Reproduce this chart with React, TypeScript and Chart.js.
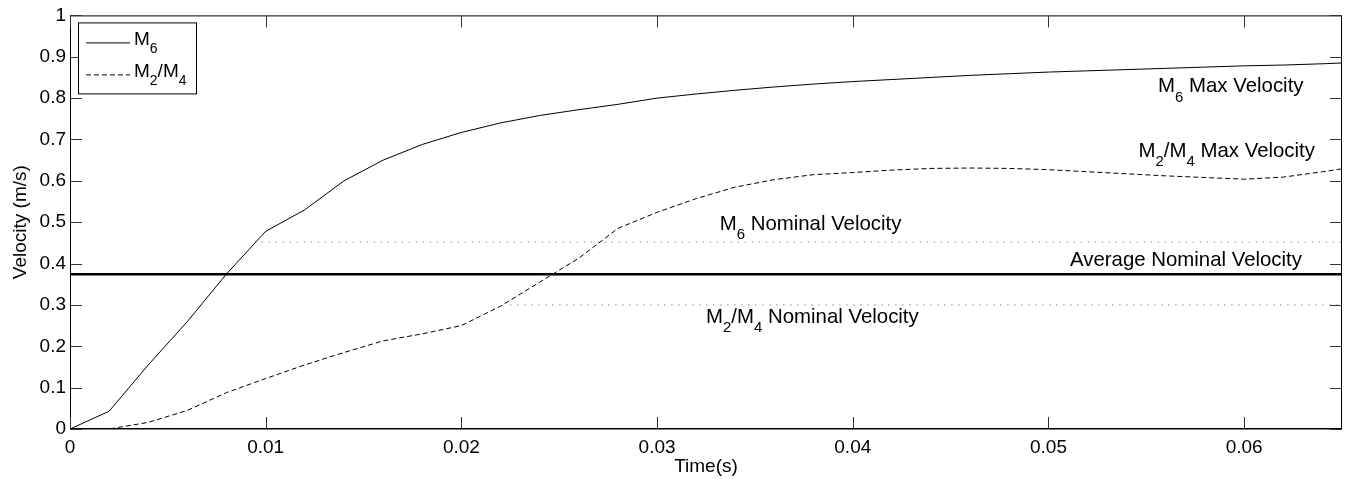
import React, { useEffect, useRef } from 'react';
import { Chart, registerables } from 'chart.js';

Chart.register(...registerables);

// ---------- data ----------
const TIME = [
  0, 0.002, 0.004, 0.006, 0.008, 0.01, 0.012, 0.014, 0.016, 0.018, 0.02,
  0.022, 0.024, 0.026, 0.028, 0.03, 0.032, 0.034, 0.036, 0.038, 0.04,
  0.042, 0.044, 0.046, 0.048, 0.05, 0.052, 0.054, 0.056, 0.058, 0.06,
  0.062, 0.064, 0.065,
];
const M6_VELOCITY = [
  0, 0.043, 0.155, 0.26, 0.375, 0.478, 0.53, 0.6, 0.65, 0.688, 0.717,
  0.74, 0.758, 0.772, 0.785, 0.8, 0.81, 0.819, 0.827, 0.834, 0.84,
  0.845, 0.85, 0.855, 0.859, 0.863, 0.866, 0.869, 0.872, 0.875, 0.878,
  0.88, 0.883, 0.885,
];
const M24_VELOCITY = [
  0, 0, 0.016, 0.045, 0.088, 0.122, 0.155, 0.185, 0.213, 0.23, 0.25,
  0.297, 0.355, 0.413, 0.485, 0.524, 0.557, 0.585, 0.603, 0.615, 0.62,
  0.626, 0.63, 0.631, 0.63, 0.627, 0.622, 0.617, 0.612, 0.608, 0.604,
  0.609, 0.622, 0.629,
];
const AVERAGE_NOMINAL = 0.374;
const M6_NOMINAL = 0.452;
const M6_NOMINAL_START = 0.0098;
const M24_NOMINAL = 0.3;
const M24_NOMINAL_START = 0.0225;
const X_MIN = 0;
const X_MAX = 0.065;
const Y_MIN = 0;
const Y_MAX = 1;
const X_TICKS = [0, 0.01, 0.02, 0.03, 0.04, 0.05, 0.06];
const X_TICK_LABELS = ['0', '0.01', '0.02', '0.03', '0.04', '0.05', '0.06'];
const Y_TICKS = [0, 0.1, 0.2, 0.3, 0.4, 0.5, 0.6, 0.7, 0.8, 0.9, 1];
const Y_TICK_LABELS = ['0', '0.1', '0.2', '0.3', '0.4', '0.5', '0.6', '0.7', '0.8', '0.9', '1'];
const SERIES_LABELS = ['M_6', 'M_2/M_4'];
const X_TITLE = 'Time(s)';
const Y_TITLE = 'Velocity (m/s)';
const ANNOTATION_TEXTS = [
  'M_6 Max Velocity',
  'M_2/M_4 Max Velocity',
  'M_6 Nominal Velocity',
  'Average Nominal Velocity',
  'M_2/M_4 Nominal Velocity',
];
const ANNOTATION_X = [0.0556, 0.0546, 0.0332, 0.0511, 0.0325];
const ANNOTATION_Y = [0.814, 0.657, 0.4807, 0.3937, 0.256];

// ---------- styles ----------
const FONT = "'Liberation Sans', Arial, Helvetica, sans-serif";
const TICK_SIZE = 19;
const ANNOT_SIZE = 20.4;
const LEGEND_SIZE = 19;

function parseRich(text: string) {
  const parts: { t: string; sub: boolean }[] = [];
  let buf = '';
  for (let i = 0; i < text.length; i++) {
    if (text[i] === '_' && i + 1 < text.length) {
      if (buf) parts.push({ t: buf, sub: false });
      buf = '';
      parts.push({ t: text[i + 1], sub: true });
      i++;
    } else {
      buf += text[i];
    }
  }
  if (buf) parts.push({ t: buf, sub: false });
  return parts;
}

function drawRich(ctx: CanvasRenderingContext2D, text: string, x: number, y: number, size: number) {
  const parts = parseRich(text);
  const subSize = Math.round(size * 0.74);
  let cx = x;
  ctx.textAlign = 'left';
  ctx.textBaseline = 'alphabetic';
  ctx.fillStyle = '#000';
  for (const p of parts) {
    ctx.font = `${p.sub ? subSize : size}px ${FONT}`;
    ctx.fillText(p.t, cx, p.sub ? y + size * 0.45 : y);
    cx += ctx.measureText(p.t).width;
  }
}

const framePlugin = {
  id: 'matlabFrame',
  afterDraw(chart: any) {
    const { ctx, chartArea, scales } = chart;
    const { left, right, top, bottom } = chartArea;
    ctx.save();
    ctx.strokeStyle = '#000';
    ctx.lineWidth = 1;
    ctx.strokeRect(left + 0.5, top + 0.5, right - left - 1, bottom - top - 1);
    ctx.lineWidth = 1.6;
    ctx.beginPath();
    ctx.moveTo(left, bottom - 0.3);
    ctx.lineTo(right, bottom - 0.3);
    ctx.stroke();
    const TL = 12;
    ctx.lineWidth = 1;
    ctx.strokeStyle = '#333';
    ctx.beginPath();
    for (const v of X_TICKS) {
      const px = Math.round(scales.x.getPixelForValue(v)) + 0.5;
      ctx.moveTo(px, bottom);
      ctx.lineTo(px, bottom - TL);
      ctx.moveTo(px, top);
      ctx.lineTo(px, top + TL);
    }
    for (const v of Y_TICKS) {
      const py = Math.round(scales.y.getPixelForValue(v)) + 0.5;
      ctx.moveTo(left, py);
      ctx.lineTo(left + TL, py);
      ctx.moveTo(right, py);
      ctx.lineTo(right - TL, py);
    }
    ctx.stroke();

    // legend
    const lx = left + 8;
    const ly = top + 7;
    const lw = 118;
    const lh = 71;
    ctx.fillStyle = '#fff';
    ctx.fillRect(lx, ly, lw, lh);
    ctx.strokeStyle = '#000';
    ctx.lineWidth = 1;
    ctx.strokeRect(lx + 0.5, ly + 0.5, lw, lh);
    const rows = [top + 27, top + 59];
    chart.data.datasets.slice(0, 2).forEach((ds: any, i: number) => {
      const ry = rows[i] + 0.5;
      ctx.strokeStyle = ds.borderColor;
      ctx.lineWidth = ds.borderWidth;
      ctx.setLineDash(ds.borderDash || []);
      ctx.beginPath();
      ctx.moveTo(lx + 8, ry);
      ctx.lineTo(lx + 52, ry);
      ctx.stroke();
      ctx.setLineDash([]);
      drawRich(ctx, SERIES_LABELS[i], lx + 56, ry + 2, LEGEND_SIZE);
    });
    ctx.restore();
  },
  afterDatasetsDraw(chart: any) {
    const { ctx, scales } = chart;
    ctx.save();
    ANNOTATION_TEXTS.forEach((t, i) => {
      const px = scales.x.getPixelForValue(ANNOTATION_X[i]);
      const py = scales.y.getPixelForValue(ANNOTATION_Y[i]);
      drawRich(ctx, t, px, py, ANNOT_SIZE);
    });
    ctx.restore();
  },
};

export default function App() {
  const ref = useRef<HTMLCanvasElement>(null);
  useEffect(() => {
    if (!ref.current) return;
    const m6 = TIME.map((t, i) => ({ x: t, y: M6_VELOCITY[i] }));
    const m24 = TIME.map((t, i) => ({ x: t, y: M24_VELOCITY[i] }));
    const chart = new Chart(ref.current, {
      type: 'line',
      data: {
        datasets: [
          { label: 'M6', data: m6, borderColor: '#000', borderWidth: 1, pointRadius: 0, tension: 0, fill: false },
          { label: 'M2/M4', data: m24, borderColor: '#000', borderWidth: 1, borderDash: [5, 3], pointRadius: 0, tension: 0, fill: false },
          {
            label: 'M6 Nominal',
            data: [{ x: M6_NOMINAL_START, y: M6_NOMINAL }, { x: X_MAX, y: M6_NOMINAL }],
            borderColor: '#777', borderWidth: 1, borderDash: [1.2, 5.8], pointRadius: 0, fill: false,
          },
          {
            label: 'M2/M4 Nominal',
            data: [{ x: M24_NOMINAL_START, y: M24_NOMINAL }, { x: X_MAX, y: M24_NOMINAL }],
            borderColor: '#777', borderWidth: 1, borderDash: [1.2, 5.8], pointRadius: 0, fill: false,
          },
          {
            label: 'Average Nominal',
            data: [{ x: X_MIN, y: AVERAGE_NOMINAL }, { x: X_MAX, y: AVERAGE_NOMINAL }],
            borderColor: '#000', borderWidth: 2.6, pointRadius: 0, fill: false,
          },
        ],
      },
      options: {
        animation: false,
        responsive: true,
        maintainAspectRatio: false,
        layout: { padding: { left: 0, top: 15, right: 5, bottom: 0 } },
        plugins: { legend: { display: false }, tooltip: { enabled: false } },
        scales: {
          x: {
            type: 'linear',
            min: X_MIN,
            max: X_MAX,
            grid: { display: false, drawTicks: false },
            border: { display: false },
            afterBuildTicks: (s: any) => { s.ticks = X_TICKS.map((v) => ({ value: v })); },
            afterFit: (s: any) => { s.height = 50; },
            ticks: {
              autoSkip: false,
              maxRotation: 0,
              padding: 7,
              color: '#000',
              font: { family: FONT, size: TICK_SIZE },
              callback: (v: any) => X_TICK_LABELS[X_TICKS.indexOf(Number(v))] ?? '',
            },
            title: { display: true, text: X_TITLE, color: '#000', font: { family: FONT, size: TICK_SIZE }, padding: { top: 0, bottom: 1 } },
          },
          y: {
            type: 'linear',
            min: Y_MIN,
            max: Y_MAX,
            grid: { display: false, drawTicks: false },
            border: { display: false },
            afterBuildTicks: (s: any) => { s.ticks = Y_TICKS.map((v) => ({ value: v })); },
            afterFit: (s: any) => { s.width = 70; },
            ticks: {
              autoSkip: false,
              padding: 4,
              color: '#000',
              font: { family: FONT, size: TICK_SIZE },
              callback: (v: any) => Y_TICK_LABELS[Y_TICKS.indexOf(Number(v))] ?? '',
            },
            title: { display: true, text: Y_TITLE, color: '#000', font: { family: FONT, size: TICK_SIZE }, padding: { top: 9.6, bottom: 0 } },
          },
        },
      },
      plugins: [framePlugin],
    });
    return () => chart.destroy();
  }, []);
  return (
    <div style={{ position: 'absolute', left: 0, top: 0, width: 1347, height: 479, background: '#fff' }}>
      <canvas ref={ref} />
    </div>
  );
}
